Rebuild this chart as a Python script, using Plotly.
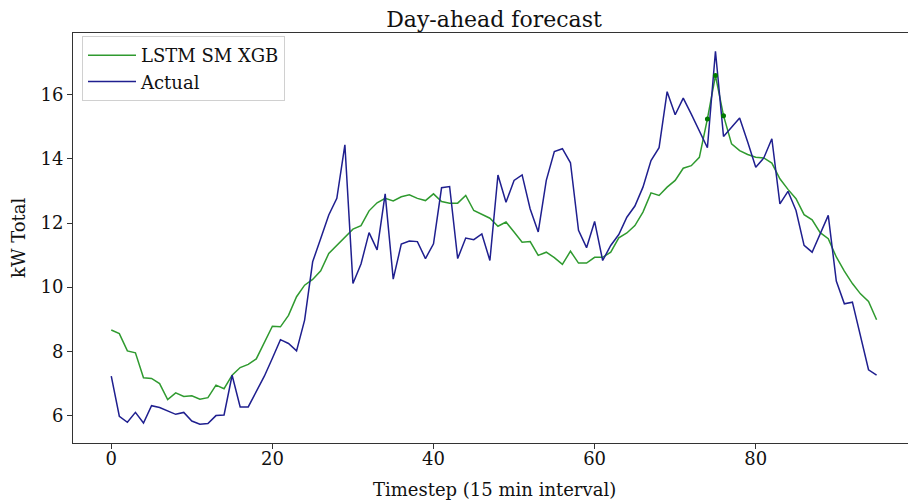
import plotly.graph_objects as go

timesteps = list(range(96))

forecast = [8.66, 8.55, 8.01, 7.95, 7.17, 7.15, 6.99, 6.49, 6.70, 6.59,
            6.61, 6.50, 6.55, 6.94, 6.83, 7.25, 7.49, 7.59, 7.76, 8.29,
            8.78, 8.76, 9.12, 9.70, 10.06, 10.24, 10.51, 11.05, 11.31, 11.57,
            11.81, 11.92, 12.38, 12.63, 12.77, 12.69, 12.82, 12.88, 12.77, 12.70,
            12.91, 12.67, 12.62, 12.62, 12.86, 12.39, 12.26, 12.15, 11.90, 12.03,
            11.72, 11.40, 11.42, 10.99, 11.09, 10.92, 10.71, 11.12, 10.75, 10.75,
            10.93, 10.93, 11.09, 11.54, 11.69, 11.92, 12.34, 12.94, 12.86, 13.12,
            13.33, 13.71, 13.79, 14.05, 15.25, 16.60, 15.35, 14.47, 14.26, 14.14,
            14.05, 14.03, 13.87, 13.38, 13.05, 12.76, 12.26, 12.10, 11.70, 11.51,
            10.94, 10.50, 10.11, 9.79, 9.55, 8.98]

actual = [7.22, 5.97, 5.78, 6.09, 5.76, 6.30, 6.24, 6.13, 6.03, 6.09,
          5.82, 5.72, 5.74, 5.99, 6.01, 7.25, 6.26, 6.26, 6.72, 7.22,
          7.78, 8.36, 8.24, 8.01, 8.97, 10.79, 11.52, 12.25, 12.77, 14.44,
          10.11, 10.72, 11.70, 11.16, 12.91, 10.25, 11.34, 11.44, 11.42, 10.89,
          11.35, 13.10, 13.14, 10.89, 11.53, 11.48, 11.66, 10.83, 13.50, 12.65,
          13.33, 13.50, 12.44, 11.72, 13.33, 14.23, 14.32, 13.88, 11.77, 11.23,
          12.05, 10.83, 11.30, 11.64, 12.18, 12.53, 13.12, 13.95, 14.35, 16.10,
          15.38, 15.90, 15.40, 14.88, 14.35, 17.36, 14.70, 14.99, 15.28, 14.53,
          13.74, 14.03, 14.63, 12.60, 12.99, 12.39, 11.30, 11.09, 11.67, 12.24,
          10.19, 9.48, 9.53, 8.49, 7.42, 7.25]

marked_steps = [74, 75, 76]

x_ticks = [0, 20, 40, 60, 80]
y_ticks = [6, 8, 10, 12, 14, 16]

FONT = "DejaVu Serif"
W, H = 908, 501
L, R, T, B = 73, 0, 33, 58

fig = go.Figure()
fig.add_trace(go.Scatter(x=timesteps, y=forecast, mode="lines", name="LSTM SM XGB",
                         line=dict(color="#2f9a2f", width=1.5)))
fig.add_trace(go.Scatter(x=timesteps, y=actual, mode="lines", name="Actual",
                         line=dict(color="#1f1f8f", width=1.5)))
fig.add_trace(go.Scatter(x=marked_steps, y=[forecast[i] for i in marked_steps],
                         mode="markers", showlegend=False,
                         marker=dict(color="#007a00", size=5)))

fig.update_layout(
    width=W, height=H,
    margin=dict(l=L, r=R, t=T, b=B, autoexpand=False),
    paper_bgcolor="white", plot_bgcolor="white",
    font=dict(family=FONT, size=18, color="#111"),
    title=dict(text="Day-ahead forecast", x=494 / W, xanchor="center",
               y=1 - 19 / H, yanchor="middle", font=dict(size=22, family=FONT)),
    showlegend=True,
    legend=dict(x=(82 - L) / (W - L - R), y=1 - (36 - T) / (H - T - B),
                xanchor="left", yanchor="top",
                bgcolor="rgba(255,255,255,0.85)", bordercolor="#d0d0d0", borderwidth=1,
                font=dict(size=18, family=FONT), tracegroupgap=2, itemwidth=48),
    xaxis=dict(range=[-4.75, 98.9], tickvals=x_ticks, showgrid=False, zeroline=False,
               showline=True, linecolor="#333", linewidth=1, mirror=True,
               ticks="outside", ticklen=5, tickcolor="#333", automargin=False,
               tickfont=dict(size=18), ticklabelstandoff=-6),
    yaxis=dict(range=[5.135, 17.93], tickvals=y_ticks, showgrid=False, zeroline=False,
               showline=True, linecolor="#333", linewidth=1, mirror=False,
               ticks="outside", ticklen=5, tickcolor="#333", automargin=False,
               tickfont=dict(size=18)),
    annotations=[
        dict(text="Timestep (15 min interval)", xref="paper", yref="paper",
             x=(494 - L) / (W - L - R), y=-(489 - (H - B)) / (H - T - B),
             xanchor="center", yanchor="middle", showarrow=False,
             font=dict(size=18, family=FONT)),
        dict(text="kW Total", xref="paper", yref="paper",
             x=-(L - 18) / (W - L - R), y=1 - (237 - T) / (H - T - B),
             xanchor="center", yanchor="middle", showarrow=False, textangle=-90,
             font=dict(size=18, family=FONT)),
    ],
)

fig.write_html("out.html", config={"displayModeBar": False},
               post_script="document.body.style.margin='0px';document.body.style.overflow='hidden';")
